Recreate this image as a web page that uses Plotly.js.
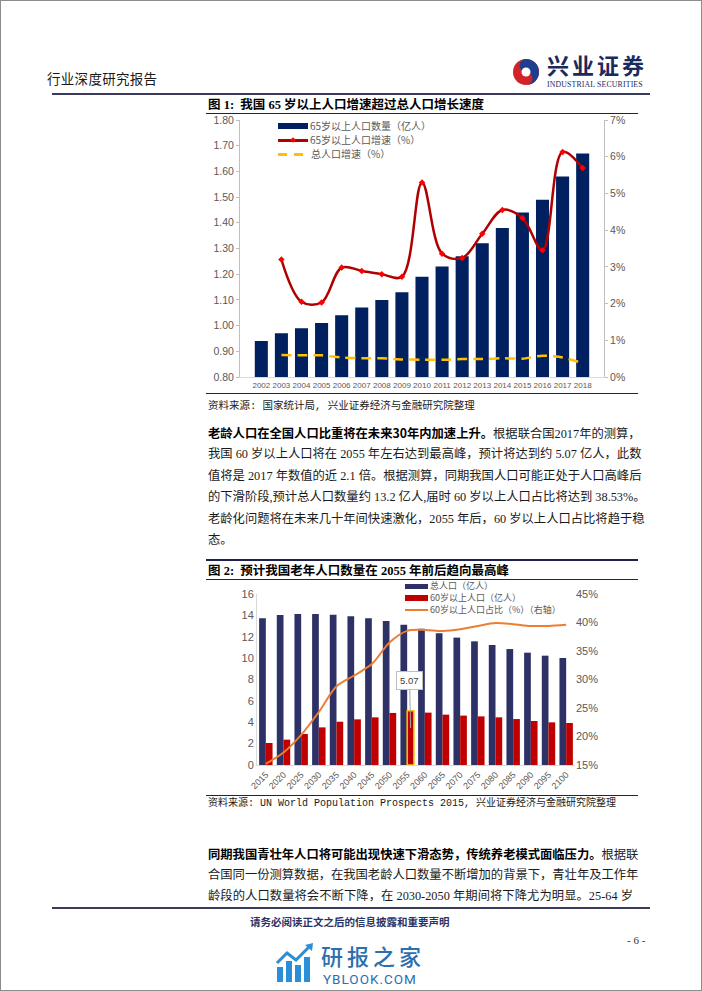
<!DOCTYPE html>
<html lang="zh-CN"><head><meta charset="utf-8">
<script src="https://cdn.plot.ly/plotly-3.0.1.min.js"></script>
<style>
html,body{margin:0;padding:0;background:#fff;}
#page{position:relative;width:702px;height:991px;box-sizing:border-box;border:1px solid #8c8c8c;overflow:hidden;font-family:"Noto Sans CJK SC",sans-serif;background:#fff;}
.abs{position:absolute;white-space:nowrap;}
.ln{position:absolute;height:0;z-index:5;}
.para{position:absolute;left:207px;width:425px;font-size:12.3px;line-height:16px;height:16px;color:#1a1a1a;text-align:justify;text-align-last:justify;white-space:nowrap;font-family:"Liberation Serif","Noto Sans CJK SC",serif;}
.para b{font-family:"Noto Sans CJK SC",sans-serif;font-weight:bold;color:#000;}
.leg{position:absolute;font-size:10px;line-height:12px;color:#595959;white-space:nowrap;font-family:"Liberation Sans Narrow","Noto Sans CJK SC",sans-serif;z-index:6;}
.leg2{position:absolute;font-size:9px;line-height:12px;color:#595959;white-space:nowrap;font-family:"Liberation Sans Narrow","Noto Sans CJK SC",sans-serif;z-index:6;}
.sw{position:absolute;z-index:6;}
.src{position:absolute;left:207px;font-size:10.5px;line-height:14px;color:#1a1a1a;white-space:nowrap;font-family:"Liberation Mono","Noto Sans CJK SC",monospace;}
.ftitle{position:absolute;left:207px;font-size:12.5px;line-height:16px;font-weight:bold;color:#000;white-space:nowrap;font-family:"Liberation Serif","Noto Sans CJK SC",serif;}
.ftitle span{font-family:"Noto Sans CJK SC",sans-serif;}
.chart{position:absolute;}
</style></head>
<body>
<div id="page">
  <!-- header -->
  <div class="abs" style="left:46px;top:68px;font-size:13.5px;line-height:18px;letter-spacing:0.3px;color:#1a1a1a;">行业深度研究报告</div>
  <svg class="abs" style="left:511px;top:57px;" width="28" height="28" viewBox="0 0 28 28">
    <circle cx="14" cy="14" r="13" fill="#D2232A"/>
    <path d="M14 1 A13 13 0 0 1 14 27 A6.5 6.5 0 0 0 14 14 A6.5 6.5 0 0 1 14 1Z" fill="#1E3F8F"/>
    <circle cx="14" cy="14" r="4.5" fill="#fff"/>
  </svg>
  <div class="abs" style="left:546px;top:52px;font-size:22px;line-height:22px;font-weight:bold;color:#1B2A5C;letter-spacing:3px;">兴业证券</div>
  <div class="abs" style="left:546px;top:79px;font-size:7.8px;line-height:9px;color:#1B2A5C;letter-spacing:0.15px;font-family:'Liberation Serif',serif;">INDUSTRIAL SECURITIES</div>
  <div class="ln" style="left:51px;top:92px;width:598px;border-top:2px solid #3A3A5C;"></div>

  <!-- figure 1 -->
  <div class="ftitle" style="top:95px;">图 1:&nbsp; <span>我国</span> 65 <span>岁以上人口增速超过总人口增长速度</span></div>
  <div class="ln" style="left:205px;top:112px;width:432px;border-top:1px solid #1F2050;"></div>
  <div id="c1" class="chart" style="left:200px;top:103px;width:440px;height:295px;"></div>
  <div class="sw" style="left:277px;top:122px;width:30px;height:6px;background:#002060;"></div>
  <div class="leg" style="left:309px;top:119px;">65岁以上人口数量（亿人）</div>
  <div class="sw" style="left:277px;top:138px;width:30px;height:3px;background:#B00000;"></div>
  <div class="sw" style="left:290px;top:137px;width:4px;height:4px;background:#FF0000;transform:rotate(45deg);"></div>
  <div class="leg" style="left:309px;top:133px;">65岁以上人口增速（%）</div>
  <div class="sw" style="left:277px;top:152px;width:9px;height:3px;background:#FFC000;"></div>
  <div class="sw" style="left:293px;top:152px;width:9px;height:3px;background:#FFC000;"></div>
  <div class="leg" style="left:310px;top:147px;">总人口增速（%）</div>
  <div class="ln" style="left:205px;top:392px;width:432px;border-top:1px solid #1F2050;"></div>
  <div class="src" style="top:398px;">资料来源: 国家统计局, 兴业证券经济与金融研究院整理</div>

  <!-- paragraph 1 -->
  <div class="para" style="top:424px;"><b>老龄人口在全国人口比重将在未来30年内加速上升。</b>根据联合国2017年的测算，</div>
  <div class="para" style="top:445px;">我国 60 岁以上人口将在 2055 年左右达到最高峰，预计将达到约 5.07 亿人，此数</div>
  <div class="para" style="top:467px;">值将是 2017 年数值的近 2.1 倍。根据测算，同期我国人口可能正处于人口高峰后</div>
  <div class="para" style="top:488px;">的下滑阶段,预计总人口数量约 13.2 亿人,届时 60 岁以上人口占比将达到 38.53%。</div>
  <div class="para" style="top:510px;">老龄化问题将在未来几十年间快速激化，2055 年后，60 岁以上人口占比将趋于稳</div>
  <div class="para" style="top:531px;text-align-last:left;">态。</div>

  <!-- figure 2 -->
  <div class="ln" style="left:205px;top:558px;width:432px;border-top:2px solid #1F2050;"></div>
  <div class="ftitle" style="top:561px;">图 2:&nbsp; <span>预计我国老年人口数量在</span> 2055 <span>年前后趋向最高峰</span></div>
  <div class="ln" style="left:205px;top:578px;width:432px;border-top:1px solid #1F2050;"></div>
  <div id="c2" class="chart" style="left:200px;top:579px;width:440px;height:214px;"></div>
  <div class="sw" style="left:404px;top:583px;width:23px;height:5px;background:#2E3165;"></div>
  <div class="leg2" style="left:429px;top:579px;">总人口（亿人）</div>
  <div class="sw" style="left:404px;top:594px;width:23px;height:6px;background:#C00000;"></div>
  <div class="leg2" style="left:429px;top:591px;">60岁以上人口（亿人）</div>
  <div class="sw" style="left:404px;top:608px;width:23px;height:2px;background:#ED7D31;"></div>
  <div class="leg2" style="left:429px;top:603px;">60岁以上人口占比（%）（右轴）</div>
  <div class="ln" style="left:205px;top:794px;width:432px;border-top:1px solid #1F2050;"></div>
  <div class="src" style="top:796px;font-size:10px;">资料来源: UN World Population Prospects 2015, 兴业证券经济与金融研究院整理</div>

  <!-- paragraph 2 -->
  <div class="para" style="top:845px;"><b>同期我国青壮年人口将可能出现快速下滑态势，传统养老模式面临压力。</b>根据联</div>
  <div class="para" style="top:866px;">合国同一份测算数据，在我国老龄人口数量不断增加的背景下，青壮年及工作年</div>
  <div class="para" style="top:887px;">龄段的人口数量将会不断下降，在 2030-2050 年期间将下降尤为明显。25-64 岁</div>

  <!-- footer -->
  <div class="ln" style="left:51px;top:906px;width:598px;border-top:2px solid #3A3A5C;"></div>
  <div class="abs" style="left:249px;top:914px;font-size:10.5px;line-height:14px;font-weight:bold;color:#2B3366;">请务必阅读正文之后的信息披露和重要声明</div>
  <div class="abs" style="left:626px;top:932px;font-size:11px;line-height:14px;color:#333;font-family:'Liberation Serif',serif;">- 6 -</div>
  <svg class="abs" style="left:274px;top:942px;" width="40" height="40" viewBox="0 0 40 40">
    <rect x="2" y="24" width="6" height="15" fill="#2A8FD6"/>
    <rect x="11" y="18" width="6" height="21" fill="#2A8FD6"/>
    <rect x="20" y="22" width="6" height="17" fill="#2A8FD6"/>
    <rect x="29" y="14" width="6" height="25" fill="#2A8FD6"/>
    <polyline points="2,20 12,10 21,17 35,3" fill="none" stroke="#2A8FD6" stroke-width="3"/>
    <polygon points="30,2 38,0 37,8" fill="#2A8FD6"/>
  </svg>
  <div class="abs" style="left:320px;top:943px;font-size:22px;line-height:22px;color:#2B6FB0;font-weight:500;letter-spacing:4px;">研报之家</div>
  <div class="abs" style="left:322px;top:971px;font-size:13.5px;line-height:14px;color:#2B6FB0;font-family:Roboto,sans-serif;letter-spacing:1px;">YBLOOK.COM</div>
</div>

<script>
// ---------- Figure 1 data ----------
var years1 = ['2002','2003','2004','2005','2006','2007','2008','2009','2010','2011','2012','2013','2014','2015','2016','2017','2018'];
var pop65 = [0.94,0.97,0.99,1.01,1.04,1.07,1.10,1.13,1.19,1.23,1.27,1.32,1.38,1.44,1.49,1.58,1.67];
var growth65 = [null,3.20,2.05,2.03,2.98,2.89,2.80,2.73,5.30,3.36,3.24,3.90,4.55,4.33,3.45,6.13,5.69];
var totalGrowth = [null,0.60,0.59,0.59,0.53,0.51,0.51,0.48,0.47,0.47,0.49,0.49,0.51,0.50,0.58,0.53,0.38];
var tickLabels1Left = ['0.80','0.90','1.00','1.10','1.20','1.30','1.40','1.50','1.60','1.70','1.80'];

// ---------- Figure 2 data ----------
var years2 = ['2015','2020','2025','2030','2035','2040','2045','2050','2055','2060','2065','2070','2075','2080','2085','2090','2095','2100'];
var totalPop = [13.72,14.04,14.13,14.13,14.07,13.91,13.72,13.47,13.13,12.76,12.32,11.92,11.57,11.23,10.85,10.51,10.23,10.01];
var pop60 = [2.06,2.37,2.90,3.52,4.05,4.27,4.46,4.87,5.07,4.90,4.71,4.62,4.55,4.46,4.30,4.12,3.99,3.93];
var share60 = [15.2,17.2,20.3,24.3,28.8,30.7,32.7,36.5,38.53,38.7,38.5,38.8,39.4,39.9,39.7,39.4,39.4,39.6];
var peakYear = '2055';

var tickFont = 'Liberation Sans Narrow, Liberation Sans, Arial, sans-serif';
var gray = '#595959';

var t1 = [
  {type:'bar', x:years1, y:pop65, marker:{color:'#002060'}, hoverinfo:'skip'},
  {type:'scatter', mode:'lines+markers', x:years1, y:growth65, yaxis:'y2',
   line:{color:'#B00000', width:2.5, shape:'spline', smoothing:1},
   marker:{symbol:'diamond', size:5, color:'#FF0000'}, connectgaps:false, hoverinfo:'skip'},
  {type:'scatter', mode:'lines', x:years1, y:totalGrowth, yaxis:'y2',
   line:{color:'#FFC000', width:2.5, dash:'10px,6px', shape:'spline', smoothing:0.6}, hoverinfo:'skip'}
];
var l1 = {
  width:440, height:295, margin:{l:39, r:37, t:16, b:22},
  paper_bgcolor:'rgba(0,0,0,0)', plot_bgcolor:'rgba(0,0,0,0)',
  showlegend:false, bargap:0.35,
  font:{family:tickFont, color:gray},
  xaxis:{type:'category', tickangle:0, tickfont:{family:tickFont, size:8, color:gray}, showline:true, linecolor:'#D9D9D9',
         ticks:'', showgrid:false, zeroline:false},
  yaxis:{range:[0.8,1.8], tickvals:tickLabels1Left.map(Number), ticktext:tickLabels1Left,
         tickfont:{family:tickFont, size:10.5, color:gray}, showline:true, linecolor:'#BFBFBF',
         ticks:'outside', ticklen:3, tickcolor:'#BFBFBF', showgrid:false, zeroline:false},
  yaxis2:{overlaying:'y', side:'right', range:[0,7], dtick:1, ticksuffix:'%',
         tickfont:{family:tickFont, size:10.5, color:gray}, showline:true, linecolor:'#BFBFBF',
         ticks:'outside', ticklen:3, tickcolor:'#BFBFBF', showgrid:false, zeroline:false}
};
Plotly.newPlot('c1', t1, l1, {staticPlot:true, displayModeBar:false});

var peakIdx = years2.indexOf(peakYear);
var lineColors = years2.map(function(y){ return y === peakYear ? '#FFC000' : 'rgba(0,0,0,0)'; });
var lineWidths = years2.map(function(y){ return y === peakYear ? 1.5 : 0; });

var t2 = [
  {type:'bar', x:years2, y:totalPop, marker:{color:'#2E3165'}, hoverinfo:'skip'},
  {type:'bar', x:years2, y:pop60, marker:{color:'#C00000', line:{color:lineColors, width:lineWidths}}, hoverinfo:'skip'},
  {type:'scatter', mode:'lines', x:years2, y:share60, yaxis:'y2',
   line:{color:'#ED7D31', width:2, shape:'spline', smoothing:0.8}, hoverinfo:'skip'}
];
var l2 = {
  width:440, height:214, margin:{l:56, r:66, t:14, b:29},
  paper_bgcolor:'rgba(0,0,0,0)', plot_bgcolor:'rgba(0,0,0,0)',
  showlegend:false, barmode:'group', bargap:0.24, bargroupgap:0,
  font:{family:tickFont, color:gray},
  xaxis:{type:'category', tickangle:-45, tickfont:{family:tickFont, size:9, color:gray},
         showline:true, linecolor:'#D9D9D9', ticks:'', showgrid:false, zeroline:false},
  yaxis:{range:[0,16], dtick:2, tickfont:{family:tickFont, size:11, color:gray},
         showline:true, linecolor:'#D9D9D9', ticks:'', showgrid:false, zeroline:false},
  yaxis2:{overlaying:'y', side:'right', range:[15,45], dtick:5, ticksuffix:'%',
         tickfont:{family:tickFont, size:11, color:gray}, showline:false, ticks:'', showgrid:false, zeroline:false},
  annotations:[{
    x:peakIdx, y:pop60[peakIdx]*0.68, xref:'x', yref:'y', xshift:3.4,
    text:pop60[peakIdx].toFixed(2), showarrow:true, arrowhead:0, arrowwidth:1, arrowcolor:'#A6A6A6',
    ax:-1, ay:-48, bordercolor:'#BFBFBF', borderwidth:1, borderpad:3, bgcolor:'#ffffff',
    font:{family:tickFont, size:9.5, color:'#404040'}
  }]
};
Plotly.newPlot('c2', t2, l2, {staticPlot:true, displayModeBar:false});
</script>
</body></html>
